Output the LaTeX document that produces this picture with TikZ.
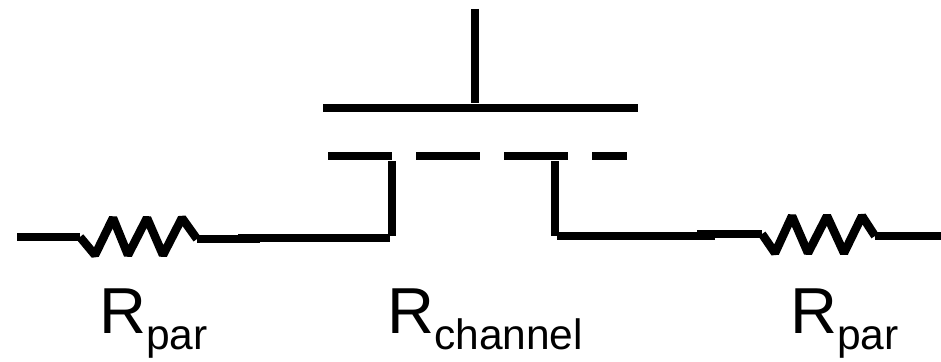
\documentclass[tikz,border=0pt]{standalone}
\usepackage{fontspec}
\setmainfont{Liberation Sans}
\usetikzlibrary{positioning}
\newcommand{\rlabel}[1]{\fontsize{65}{70}\selectfont R\raisebox{-16.5pt}{\fontsize{42.5}{46}\selectfont #1}}

\begin{document}
\begin{tikzpicture}[
        x=1pt, y=-1pt,
        wire/.style={draw, line width=8pt, line cap=butt},
        zigzag/.style={draw, line width=8.5pt, line join=bevel},
        label/.style={anchor=base west, inner sep=0pt}
    ]
        \useasboundingbox (0,0) rectangle (941,361);

        % Gate
        \coordinate (gatetop) at (475,9);
        \coordinate (gatefoot) at (475,103);
        \coordinate (gateleft) at (323,108);
        \coordinate (gateright) at (638,108);
        \draw [wire] (gatetop) -- (gatefoot);
        \draw [wire] (gateleft) -- (gateright);

        % Channel (dashes)
        \foreach \xa/\xb in {328/392, 416/480, 504/568, 592/627} {
            \draw [wire] (\xa,156) -- (\xb,156);
        }

        % Source and drain
        \coordinate (source) at (392,161);
        \coordinate (sourcefoot) at (392,236);
        \coordinate (drain) at (555,161);
        \coordinate (drainfoot) at (555,236);
        \draw [wire] (source) -- (sourcefoot);
        \draw [wire] (drain) -- (drainfoot);

        % Left resistor
        \coordinate (leftin) at (17,237);
        \coordinate (leftzig) at (80,237);
        \coordinate (leftzag) at (197,239);
        \coordinate (leftout) at (260,239);
        \draw [wire] (leftin) -- (leftzig);
        \draw [zigzag] (leftzig) -- (95,255) -- (113,218) -- (128,255) -- (147,218) -- (163,255) -- (182,218) -- (leftzag);
        \draw [wire] (leftzag) -- (leftout);
        \coordinate (leftlead) at (238,238);
        \coordinate (sourcelead) at (390,238);
        \draw [wire] (leftlead) -- (sourcelead);

        % Right resistor
        \coordinate (drainlead) at (557,236);
        \coordinate (rightlead) at (715,236);
        \coordinate (rightin) at (697,234);
        \coordinate (rightzig) at (762,234);
        \coordinate (rightzag) at (875,236);
        \coordinate (rightout) at (941,236);
        \draw [wire] (drainlead) -- (rightlead);
        \draw [wire] (rightin) -- (rightzig);
        \draw [zigzag] (rightzig) -- (775,253) -- (792,216) -- (808,253) -- (827,216) -- (844,253) -- (862,216) -- (rightzag);
        \draw [wire] (rightzag) -- (rightout);

        % Labels
        \node [label] (rparleft) at (99,333) {\rlabel{par}};
        \node [label] (rchannel) at (387,333) {\rlabel{channel}};
        \node [label] (rparright) at (790,333) {\rlabel{par}};
\end{tikzpicture}
\end{document}
